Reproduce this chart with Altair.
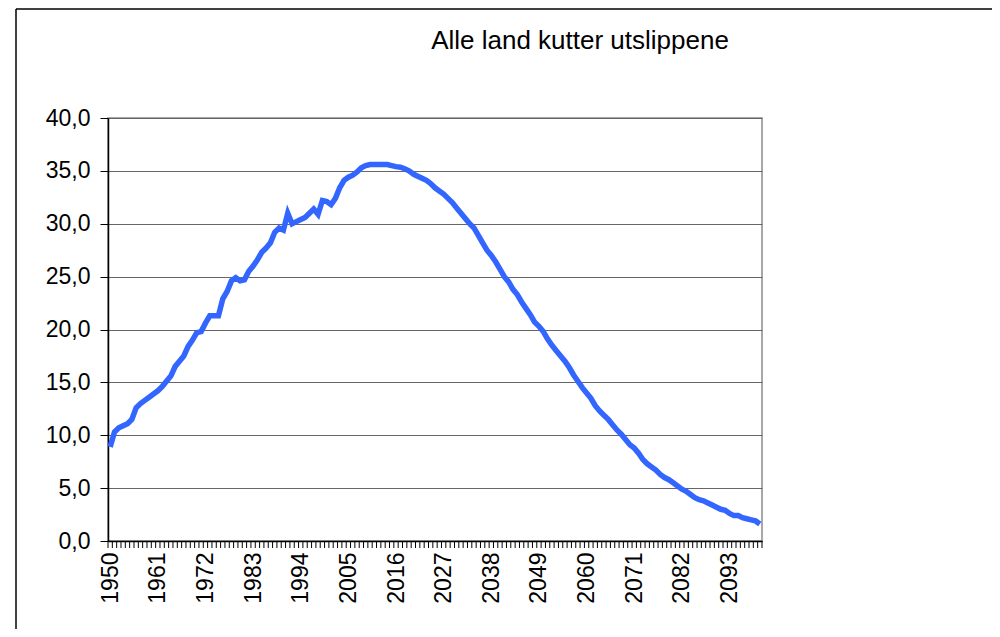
import altair as alt
import pandas as pd

title_text = "Alle land kutter utslippene"

years = list(range(1950, 2101))
values = [
    8.9, 10.3, 10.7, 10.9, 11.1, 11.5, 12.6, 13.0, 13.3, 13.6,   # 1950-1959
    13.9, 14.2, 14.6, 15.1, 15.6, 16.5, 17.0, 17.5, 18.4, 19.0,  # 1960-1969
    19.7, 19.8, 20.6, 21.3, 21.3, 21.3, 22.9, 23.6, 24.6, 24.9,  # 1970-1979
    24.6, 24.7, 25.5, 26.0, 26.6, 27.3, 27.7, 28.2, 29.2, 29.6,  # 1980-1989
    29.4, 31.0, 30.0, 30.2, 30.4, 30.6, 31.0, 31.4, 30.9, 32.2,  # 1990-1999
    32.1, 31.8, 32.4, 33.4, 34.1, 34.4, 34.6, 34.9, 35.3, 35.5,  # 2000-2009
    35.6, 35.6, 35.6, 35.6, 35.6, 35.5, 35.4, 35.35, 35.2, 35.0, # 2010-2019
    34.7, 34.5, 34.3, 34.1, 33.8, 33.4, 33.1, 32.8, 32.4, 32.0,  # 2020-2029
    31.5, 31.0, 30.5, 30.0, 29.6, 28.9, 28.2, 27.5, 27.0, 26.4,  # 2030-2039
    25.7, 25.0, 24.5, 23.8, 23.3, 22.6, 22.0, 21.4, 20.7, 20.3,  # 2040-2049
    19.8, 19.1, 18.5, 18.0, 17.5, 17.0, 16.4, 15.7, 15.1, 14.5,  # 2050-2059
    14.0, 13.5, 12.8, 12.3, 11.9, 11.5, 11.0, 10.5, 10.1, 9.6,   # 2060-2069
    9.1, 8.8, 8.3, 7.7, 7.3, 7.0, 6.7, 6.3, 6.0, 5.8,            # 2070-2079
    5.5, 5.2, 4.9, 4.7, 4.4, 4.1, 3.9, 3.8, 3.6, 3.4,            # 2080-2089
    3.2, 3.0, 2.9, 2.6, 2.4, 2.4, 2.2, 2.1, 2.0, 1.9,            # 2090-2099
    1.6,                                                          # 2100
]

x_labels = list(range(1950, 2101, 11))
y_ticks = [0, 5, 10, 15, 20, 25, 30, 35, 40]
boundaries = [y - 0.5 for y in years] + [2100.5]

W, H = 654, 423
FONT = "Liberation Sans"

df = pd.DataFrame({"Year": years, "Value": values})
df_b = pd.DataFrame({"b": boundaries})
df_t = pd.DataFrame({"t": [title_text]})

xscale = alt.Scale(domain=[1949.5, 2100.5], nice=False, zero=False)
yscale = alt.Scale(domain=[0, 40], nice=False)

line = alt.Chart(df).mark_line(color="#3366FF", strokeWidth=5.5).encode(
    x=alt.X("Year:Q", scale=xscale, title=None,
            axis=alt.Axis(values=x_labels, format="d", ticks=False, grid=False,
                          labelAngle=-90, labelAlign="right", labelBaseline="middle",
                          labelPadding=11, labelFontSize=23, labelFont=FONT,
                          labelColor="black", domainColor="black", domainWidth=1.5,
                          labelOverlap=False)),
    y=alt.Y("Value:Q", scale=yscale, title=None,
            axis=alt.Axis(values=y_ticks,
                          labelExpr="replace(format(datum.value, '.1f'), '.', ',')",
                          tickSize=8, tickColor="black", domainColor="black",
                          domainWidth=1.5, gridColor="#666666", gridWidth=1,
                          labelFontSize=23, labelFont=FONT, labelColor="black",
                          labelPadding=10)),
)

ticks = alt.Chart(df_b).mark_rule(color="black", strokeWidth=1).encode(
    x=alt.X("b:Q", scale=xscale, title=None),
    y=alt.value(H),
    y2=alt.value(H + 7),
)

title = alt.Chart(df_t).mark_text(fontSize=26, font=FONT, align="center",
                                   baseline="alphabetic", color="black").encode(
    text="t:N",
    x=alt.value(580 - 108),
    y=alt.value(-69),
)

frame_top = alt.Chart(df_t).mark_rule(color="black", strokeWidth=1.5).encode(
    x=alt.value(-92), x2=alt.value(W + 240), y=alt.value(-109),
)
frame_left = alt.Chart(df_t).mark_rule(color="black", strokeWidth=1.5).encode(
    x=alt.value(-92), y=alt.value(-109), y2=alt.value(H + 100),
)

chart = alt.layer(line, ticks, title, frame_top, frame_left).properties(
    width=W, height=H,
    autosize=alt.AutoSizeParams(type="none"),
    padding={"left": 100, "top": 110, "right": 230, "bottom": 88},
    background="white",
).configure_view(stroke="#8c8c8c", strokeWidth=1.5)

chart.save("out.html", embed_options={"renderer": "svg", "actions": False})
